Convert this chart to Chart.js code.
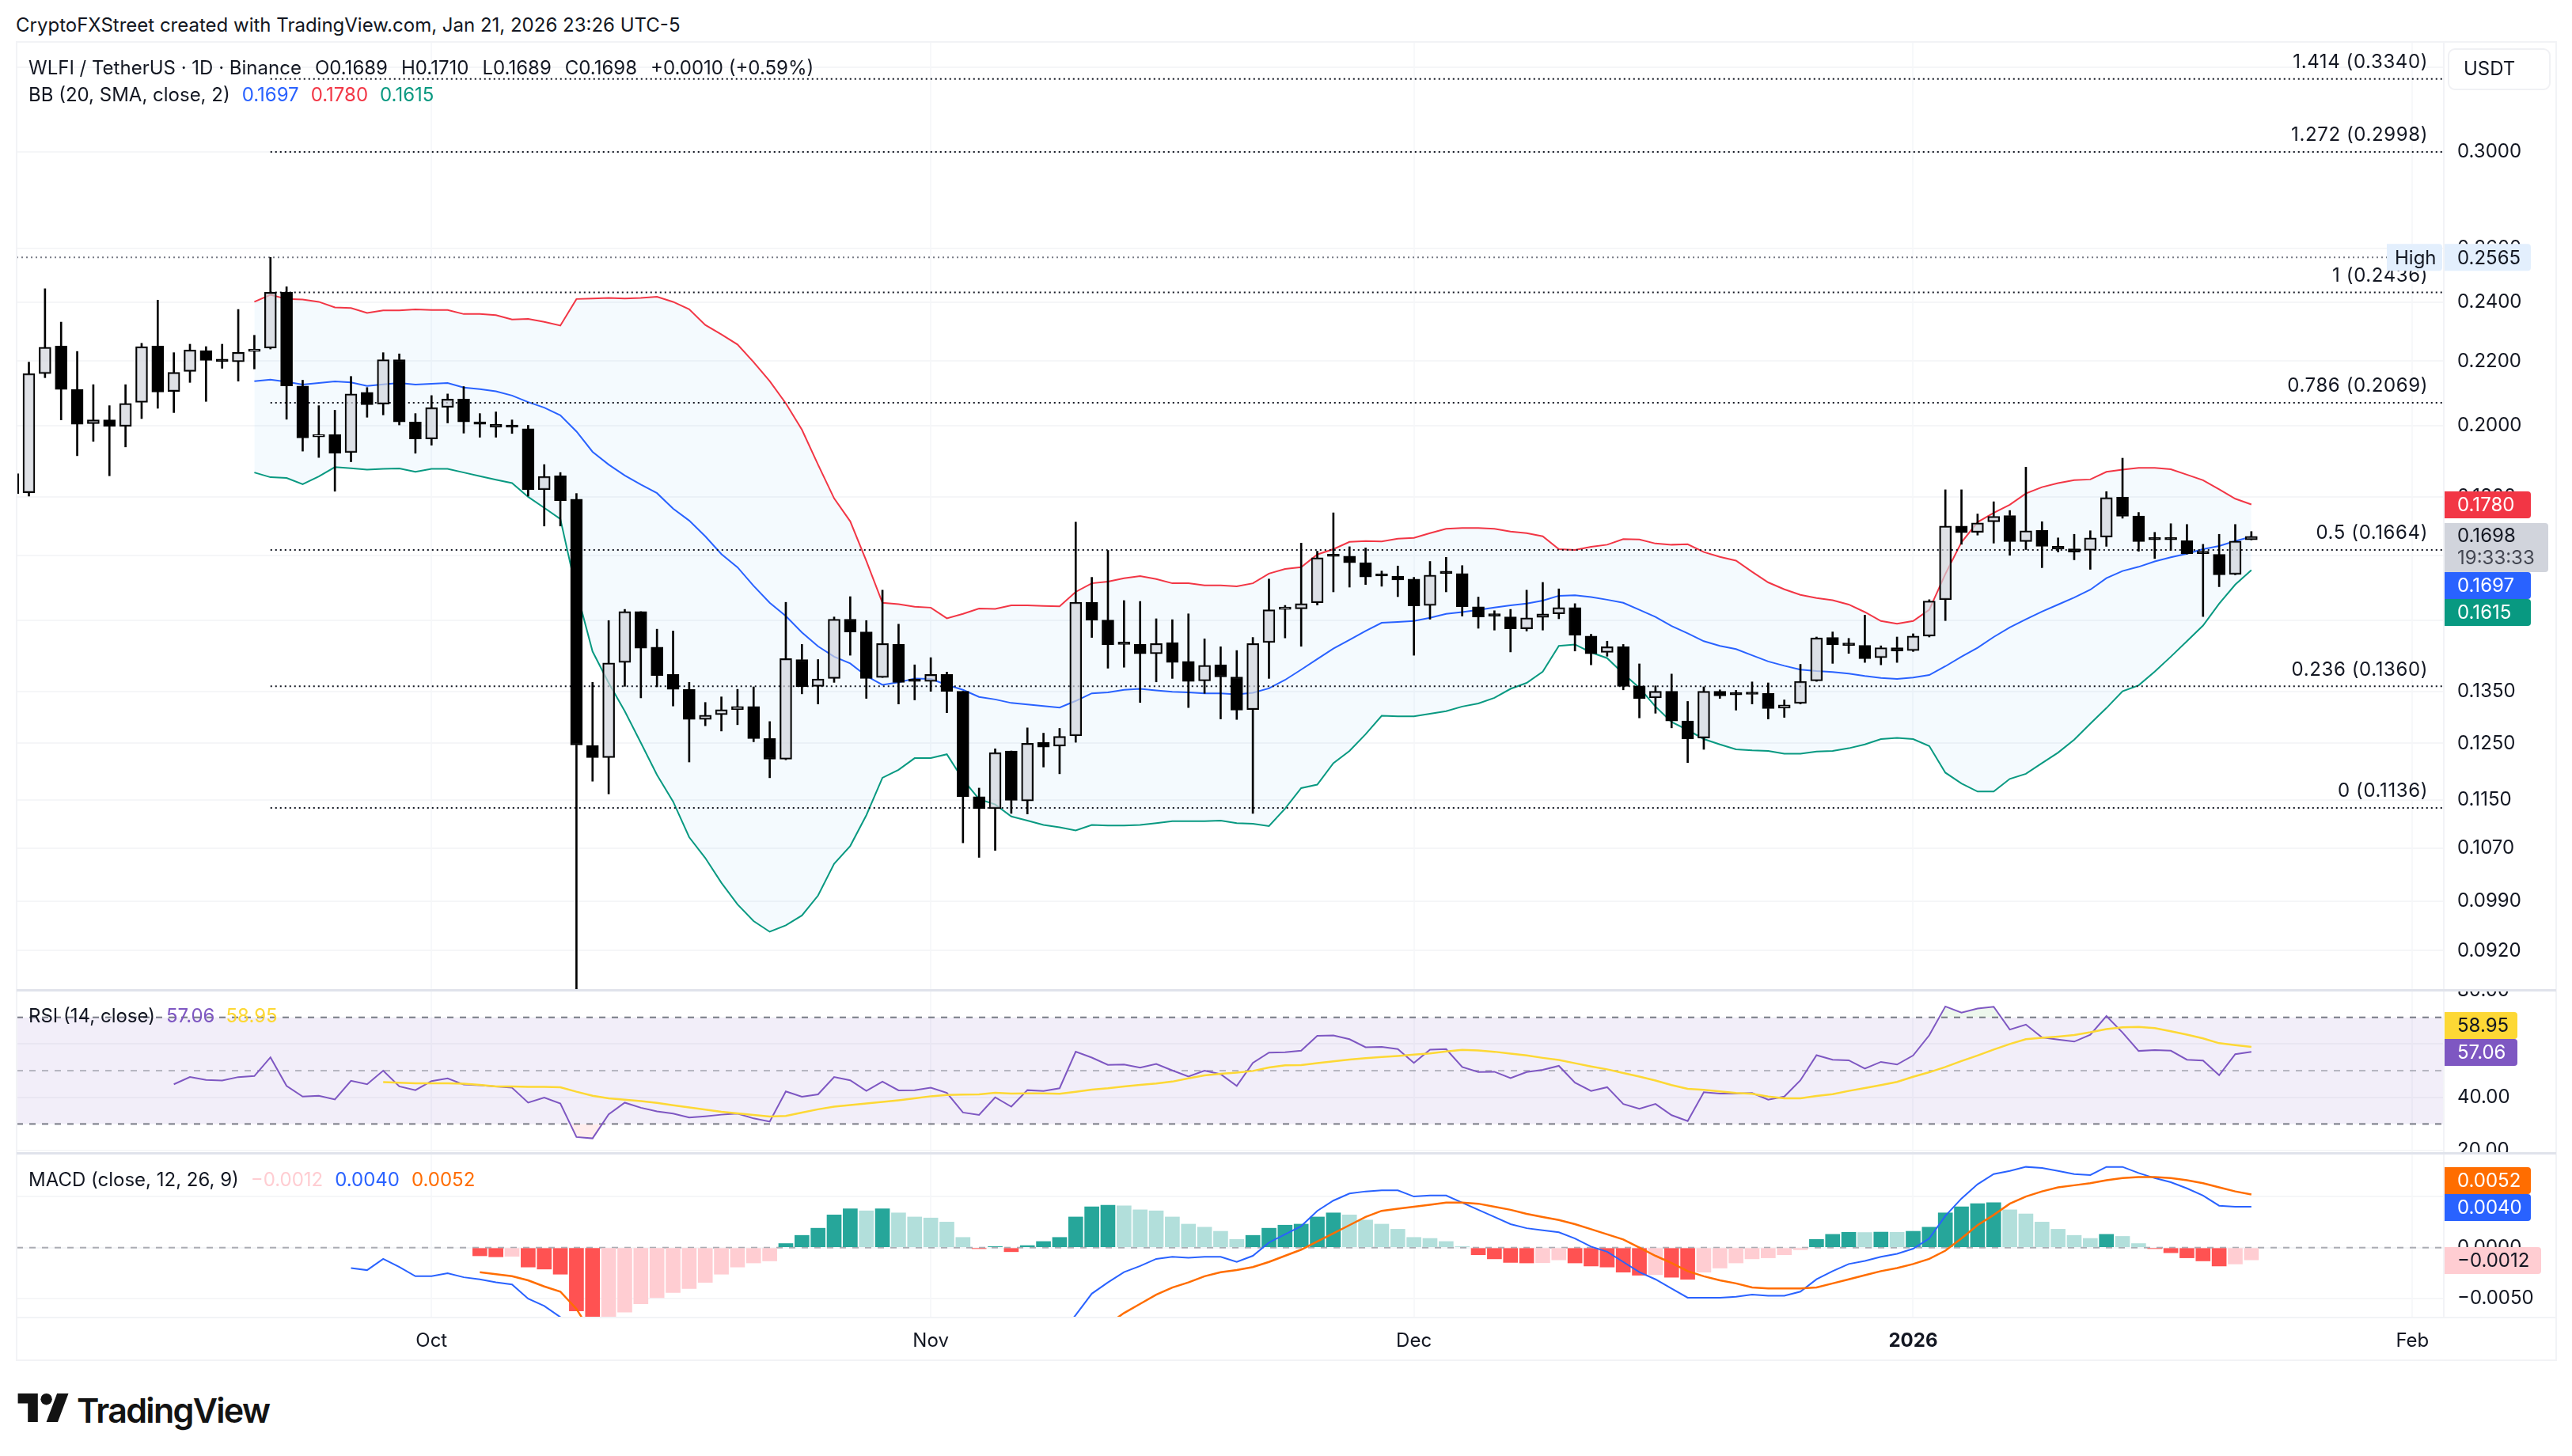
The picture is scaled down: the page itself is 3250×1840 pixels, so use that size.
<!DOCTYPE html>
<html>
<head>
<meta charset="utf-8">
<style>
  html, body { margin: 0; padding: 0; background: #fff; }
  body { width: 3250px; height: 1840px; position: relative; overflow: hidden; font-family: Inter, sans-serif; color: #131722; }
  canvas { position: absolute; left: 21px; }
  .txt { position: absolute; font-size: 24px; line-height: 30px; white-space: nowrap; }
  .txt span { margin-left: 12px; }
  .wide span { margin-left: 17px; }
  .mid span { margin-left: 15px; }
  .rule { position: absolute; background: #f2f3f6; }
  .sep { position: absolute; left: 21px; width: 3209px; height: 3px; background: #e0e3eb; }
</style>
</head>
<body>
<canvas id="priceChart" width="3209" height="1198" style="top:53px"></canvas>
<canvas id="rsiChart" width="3209" height="206" style="top:1252px"></canvas>
<canvas id="macdChart" width="3209" height="260" style="top:1459px"></canvas>

<div class="rule" style="left:20px;top:52px;width:3210px;height:2px"></div>
<div class="rule" style="left:20px;top:52px;width:2px;height:1667px"></div>
<div class="rule" style="left:3229px;top:52px;width:2px;height:1667px"></div>
<div class="rule" style="left:20px;top:1718px;width:3211px;height:2px"></div>
<div class="rule" style="left:3087px;top:52px;width:2px;height:1612px"></div>
<div class="rule" style="left:20px;top:1664px;width:3211px;height:2px"></div>
<div class="sep" style="top:1250px"></div>
<div class="sep" style="top:1456px"></div>

<div class="txt" style="left:20px;top:17px">CryptoFXStreet created with TradingView.com, Jan 21, 2026 23:26 UTC-5</div>
<div class="txt wide" style="left:36px;top:71px">WLFI / TetherUS · 1D · Binance<span>O0.1689</span><span>H0.1710</span><span>L0.1689</span><span>C0.1698</span><span>+0.0010 (+0.59%)</span></div>
<div class="txt mid" style="left:36px;top:105px">BB (20, SMA, close, 2)<span style="color:#2962ff">0.1697</span><span style="color:#f23645">0.1780</span><span style="color:#089981">0.1615</span></div>
<div class="txt" style="left:36px;top:1269px">RSI (14, close)<span style="margin-left:14px;color:#7e57c2">57.06</span><span style="margin-left:14px;color:#fdd835">58.95</span></div>
<div class="txt mid" style="left:36px;top:1476px">MACD (close, 12, 26, 9)<span style="color:#ffcdd2">−0.0012</span><span style="color:#2962ff">0.0040</span><span style="color:#ff6d00">0.0052</span></div>

<svg style="position:absolute;left:22px;top:1761px" width="66" height="36" viewBox="0 0 36 20">
  <path fill="#131313" d="M14 20H7V7H0V0h14v20zM28 20h-8L27.5 0h8L28 20z"/>
  <circle fill="#131313" cx="20" cy="4" r="4"/>
</svg>
<div class="txt" style="left:97px;top:1757px;font-size:43px;line-height:50px;font-weight:600;letter-spacing:-1.7px;color:#131313">TradingView</div>

<script src="https://cdn.jsdelivr.net/npm/chart.js@4"></script>
<script>
// daily candles, first one is the cut off bar at the left edge
const firstCandle = -1;
const opens = [.1863,
  .1811,.2160,.2250,.2110,.2006,.2017,.1998,.2070,.2250,.2104,
  .2167,.2235,.2203,.2198,.2232,.2243,.2436,.2121,.1967,.1974,
  .1922,.2101,.2065,.2205,.2011,.1961,.2055,.2080,.2011,.2004,
  .1998,.1991,.1819,.1857,.1794,.1246,.1224,.1409,.1519,.1441,
  .1384,.1354,.1295,.1304,.1314,.1320,.1259,.1221,.1415,.1360,
  .1376,.1502,.1474,.1378,.1447,.1373,.1370,.1384,.1350,.1155,
  .1135,.1236,.1148,.1252,.1245,.1264,.1540,.1500,.1451,.1447,
  .1427,.1451,.1411,.1371,.1404,.1379,.1314,.1451,.1524,.1525,
  .1539,.1652,.1649,.1633,.1603,.1601,.1594,.1533,.1609,.1607,
  .1530,.1511,.1507,.1481,.1506,.1514,.1528,.1465,.1430,.1442,
  .1361,.1337,.1350,.1292,.1260,.1350,.1345,.1346,.1346,.1317,
  .1326,.1371,.1462,.1447,.1445,.1419,.1440,.1434,.1465,.1546,
  .1724,.1708,.1735,.1751,.1685,.1713,.1673,.1667,.1663,.1696,
  .1799,.1750,.1691,.1691,.1687,.1657,.1653,.1605,.1689];
const highs = [.1863,
  .2197,.2449,.2331,.2232,.2125,.2060,.2125,.2259,.2408,.2228,
  .2256,.2248,.2256,.2375,.2286,.2565,.2456,.2139,.2060,.2046,
  .2151,.2116,.2228,.2224,.2036,.2091,.2096,.2119,.2036,.2041,
  .2017,.2001,.1888,.1866,.1809,.1368,.1499,.1524,.1519,.1480,
  .1476,.1368,.1328,.1339,.1354,.1359,.1291,.1540,.1447,.1415,
  .1507,.1553,.1499,.1568,.1491,.1404,.1419,.1389,.1350,.1170,
  .1240,.1236,.1279,.1269,.1278,.1734,.1598,.1663,.1544,.1542,
  .1503,.1501,.1514,.1459,.1442,.1434,.1462,.1594,.1533,.1681,
  .1661,.1758,.1672,.1669,.1613,.1625,.1598,.1636,.1646,.1626,
  .1552,.1521,.1524,.1568,.1586,.1571,.1537,.1469,.1454,.1447,
  .1406,.1361,.1385,.1330,.1359,.1353,.1352,.1369,.1367,.1333,
  .1405,.1463,.1474,.1460,.1511,.1444,.1463,.1470,.1546,.1819,
  .1819,.1755,.1787,.1764,.1881,.1735,.1694,.1703,.1712,.1814,
  .1906,.1759,.1708,.1730,.1728,.1678,.1703,.1728,.1710];
const lows = [.1809,
  .1802,.2147,.2017,.1913,.1954,.1857,.1938,.2021,.2052,.2039,
  .2132,.2073,.2177,.2136,.2175,.2240,.2019,.1926,.1908,.1815,
  .1896,.2025,.2032,.2002,.1920,.1943,.2008,.1978,.1966,.1966,
  .1977,.1802,.1724,.1724,.0800,.1182,.1160,.1360,.1337,.1359,
  .1321,.1216,.1283,.1273,.1285,.1253,.1188,.1220,.1345,.1325,
  .1368,.1424,.1336,.1378,.1325,.1333,.1350,.1308,.1079,.1056,
  .1067,.1127,.1126,.1207,.1195,.1252,.1462,.1397,.1399,.1328,
  .1369,.1376,.1318,.1346,.1296,.1295,.1127,.1376,.1461,.1443,
  .1534,.1564,.1575,.1581,.1577,.1553,.1424,.1502,.1564,.1509,
  .1482,.1478,.1431,.1476,.1478,.1503,.1433,.1404,.1422,.1353,
  .1298,.1307,.1279,.1215,.1239,.1336,.1313,.1325,.1296,.1299,
  .1325,.1370,.1407,.1428,.1409,.1404,.1409,.1432,.1463,.1499,
  .1678,.1701,.1681,.1651,.1665,.1621,.1659,.1640,.1617,.1673,
  .1744,.1661,.1643,.1663,.1654,.1508,.1576,.1604,.1689];
const closes = [.1809,
  .2160,.2246,.2110,.2004,.2017,.1998,.2067,.2248,.2102,.2164,
  .2237,.2203,.2199,.2229,.2240,.2436,.2121,.1964,.1974,.1920,
  .2096,.2063,.2205,.2011,.1961,.2054,.2080,.2011,.2004,.1995,
  .1995,.1819,.1855,.1790,.1247,.1224,.1408,.1519,.1439,.1382,
  .1354,.1295,.1303,.1314,.1320,.1259,.1221,.1417,.1359,.1375,
  .1502,.1474,.1376,.1449,.1368,.1370,.1384,.1350,.1155,.1135,
  .1233,.1149,.1250,.1243,.1263,.1540,.1500,.1446,.1447,.1427,
  .1449,.1409,.1370,.1403,.1379,.1313,.1449,.1523,.1528,.1537,
  .1645,.1648,.1633,.1599,.1601,.1592,.1532,.1603,.1607,.1530,
  .1507,.1509,.1481,.1505,.1514,.1528,.1467,.1427,.1442,.1360,
  .1336,.1350,.1292,.1258,.1350,.1341,.1343,.1344,.1316,.1323,
  .1370,.1461,.1446,.1445,.1417,.1440,.1433,.1465,.1543,.1724,
  .1707,.1732,.1749,.1685,.1712,.1673,.1666,.1659,.1694,.1798,
  .1749,.1685,.1689,.1689,.1655,.1655,.1604,.1686,.1698];

// bollinger bands start at bar 14
const bbStart = 14;
const bbUpper = [
  .2402,.2427,.2412,.2410,.2402,.2382,.2380,.2363,.2372,.2372,.2375,.2373,.2373,.2359,.2359,.2355,
  .2340,.2342,.2332,.2319,.2412,.2414,.2416,.2414,.2416,.2420,.2402,.2376,.2321,.2289,.2255,.2197,
  .2136,.2067,.1988,.1888,.1796,.1736,.1637,.1539,.1536,.1530,.1528,.1504,.1514,.1526,.1525,.1533,
  .1533,.1532,.1531,.1564,.1584,.1588,.1596,.1601,.1594,.1584,.1584,.1579,.1579,.1577,.1584,.1607,
  .1618,.1622,.1653,.1666,.1684,.1686,.1685,.1692,.1694,.1706,.1717,.1719,.1719,.1717,.1710,.1706,
  .1698,.1666,.1664,.1672,.1677,.1691,.1690,.1680,.1677,.1678,.1659,.1647,.1638,.1611,.1586,.1570,
  .1557,.1550,.1545,.1535,.1518,.1498,.1492,.1498,.1523,.1606,.1683,.1734,.1758,.1779,.1809,.1826,
  .1837,.1845,.1847,.1868,.1874,.1879,.1879,.1875,.1860,.1845,.1820,.1795,.1780];
const bbBasis = [
  .2136,.2141,.2134,.2125,.2130,.2135,.2132,.2121,.2126,.2130,.2125,.2128,.2130,.2116,.2111,.2104,
  .2091,.2071,.2054,.2031,.1983,.1924,.1888,.1858,.1833,.1810,.1769,.1738,.1698,.1654,.1622,.1578,
  .1539,.1509,.1473,.1443,.1421,.1407,.1381,.1363,.1368,.1376,.1375,.1363,.1353,.1339,.1334,.1327,
  .1324,.1321,.1318,.1331,.1346,.1348,.1353,.1355,.1352,.1349,.1348,.1346,.1346,.1344,.1347,.1356,
  .1373,.1394,.1416,.1438,.1457,.1476,.1494,.1496,.1498,.1505,.1514,.1518,.1523,.1528,.1533,.1537,
  .1544,.1555,.1556,.1552,.1546,.1539,.1523,.1507,.1487,.1471,.1454,.1444,.1437,.1424,.1411,.1402,
  .1394,.1391,.1389,.1386,.1381,.1377,.1375,.1378,.1383,.1401,.1421,.1440,.1463,.1484,.1502,.1519,
  .1535,.1551,.1569,.1596,.1613,.1623,.1636,.1646,.1655,.1666,.1674,.1686,.1697];
const bbLower = [
  .1866,.1853,.1851,.1834,.1855,.1881,.1878,.1874,.1876,.1877,.1868,.1876,.1876,.1866,.1856,.1846,
  .1837,.1800,.1771,.1742,.1566,.1432,.1367,.1311,.1251,.1193,.1147,.1088,.1055,.1017,.0985,.0961,
  .0946,.0955,.0969,.0998,.1046,.1074,.1124,.1188,.1202,.1223,.1223,.1230,.1185,.1151,.1142,.1122,
  .1115,.1108,.1104,.1099,.1108,.1107,.1107,.1108,.1111,.1114,.1114,.1114,.1115,.1111,.1110,.1106,
  .1135,.1170,.1176,.1214,.1236,.1267,.1302,.1301,.1301,.1306,.1311,.1320,.1326,.1337,.1355,.1367,
  .1390,.1444,.1447,.1430,.1418,.1386,.1357,.1320,.1290,.1275,.1258,.1248,.1239,.1237,.1236,.1231,
  .1231,.1235,.1236,.1241,.1248,.1258,.1260,.1258,.1245,.1197,.1178,.1164,.1164,.1186,.1195,.1214,
  .1233,.1257,.1287,.1317,.1350,.1362,.1390,.1421,.1454,.1488,.1537,.1581,.1615];

// fib retracement levels and the all time high marker
const fibRatios = ['1.414', '1.272', '1', '0.786', '0.5', '0.236', '0'];
const fibPrices = [.3340, .2998, .2436, .2069, .1664, .1360, .1136];
const fibStart = 15;
const highPrice = .2565;

const priceTicks = [.34, .30, .26, .24, .22, .20, .18, .165, .15, .135, .125, .115, .107, .099, .092];

const rsiStart = 9;
const rsiValues = [
  44.9,47.6,46.5,46.3,47.6,48,55,44.3,40.3,40.6,39.2,46.2,44.9,50,44.1,42.7,46.1,47.1,44.8,44.5,44.1,
  43.6,38,39.9,37.7,25.1,24.6,33.6,38,36.1,34.7,33.9,32.4,32.9,33.5,33.9,32.1,30.9,42.2,40.2,41.1,47.6,
  46.4,42.4,45.9,42.6,42.7,43.6,41.7,34.3,33.4,40,36.5,42.7,42.4,43.4,57.1,54.9,52.2,52.3,51.1,52.5,50.1,
  47.8,50,48.7,44.3,52.9,56.8,56.9,57.5,63.1,63.2,61.8,58.8,58.9,58.1,52.9,57.9,58.1,51.4,49.5,49.6,47.2,
  49.5,50.3,51.8,45.5,42.4,43.8,37.5,35.7,37.5,33.3,31.1,41.9,41.4,41.4,41.6,39.1,40.3,46.4,55.8,54.1,53.9,
  50.8,53.3,52.3,55.7,63.3,74.1,71.8,73.3,74,65.4,67.3,62.5,61.7,60.9,63.5,70.5,64.3,57.4,57.7,57.5,54.1,
  53.8,48.3,56.2,57.06];
const rsiMaStart = 22;
const rsiMa = [
  45.7,45.5,45.3,45.3,45.3,45.1,44.7,44.1,44.1,43.9,43.9,43.8,42.1,40.6,39.6,39.1,38.6,37.9,37,36.2,35.4,
  34.6,34,33.4,32.8,33,34.3,35.5,36.5,37.1,37.7,38.3,38.9,39.6,40.4,40.9,41,41.1,41.7,41.4,41.5,41.5,41.3,
  42.1,42.9,43.4,44.1,44.7,45.2,45.9,47.1,48.2,48.8,49.3,49.9,51.2,52,52.1,52.8,53.5,54.2,54.7,55.1,55.5,
  56,56.5,57.2,57.8,57.6,57.1,56.4,55.7,54.8,54,52.8,51.6,50.5,49.1,47.8,46.3,44.6,43.2,42.8,42.2,41.6,41.3,
  40.3,39.6,39.6,40.5,41.2,42.4,43.5,44.6,45.8,47.7,49.4,51.4,53.6,55.7,57.9,60,61.8,62.3,62.8,63.4,64.4,
  65.6,66.3,66.4,66,64.8,63.5,62.1,60.3,59.6,58.95];
const rsiTicks = [80, 60, 40, 20];

// the macd lines run off the bottom of the pane, nulls are the part that can't be seen
const macdStart = 20;
const macdLine = [
  -.0020,-.0022,-.0011,-.0019,-.0028,-.0028,-.0025,-.0029,-.0031,-.0034,-.0036,-.0050,-.0057,-.0068,-.0095,
  null,null,null,null,null,null,null,null,null,null,null,null,null,null,null,
  null,null,null,null,null,null,null,null,null,null,null,null,null,null,
  -.0085,-.0066,-.0045,-.0034,-.0024,-.0018,-.0011,-.0009,-.0010,-.0009,-.0009,-.0014,-.0008,.0005,.0013,
  .0021,.0036,.0046,.0053,.0055,.0056,.0056,.0050,.0051,.0051,.0044,.0037,.0030,.0023,.0019,.0017,.0015,
  .0009,.0001,-.0004,-.0014,-.0024,-.0031,-.0040,-.0049,-.0049,-.0049,-.0048,-.0046,-.0047,-.0047,-.0043,
  -.0031,-.0023,-.0016,-.0013,-.0009,-.0006,-.0001,.0009,.0031,.0048,.0062,.0072,.0075,.0079,.0078,.0075,
  .0072,.0071,.0079,.0079,.0073,.0068,.0064,.0058,.0051,.0041,.0040,.0040];
const signalStart = 28;
const macdSignal = [
  -.0024,-.0026,-.0028,-.0032,-.0038,-.0043,-.0060,-.0085,
  null,null,null,null,null,null,null,null,null,null,null,null,null,null,null,null,
  null,null,null,null,null,null,null,null,null,null,null,null,null,null,null,
  -.0075,-.0064,-.0055,-.0046,-.0039,-.0034,-.0028,-.0024,-.0022,-.0019,-.0014,-.0008,-.0002,.0006,.0014,
  .0022,.0030,.0036,.0038,.0040,.0042,.0044,.0044,.0043,.0040,.0037,.0033,.0030,.0027,.0023,.0018,.0013,
  .0008,0,-.0008,-.0015,-.0023,-.0028,-.0032,-.0035,-.0039,-.0040,-.0040,-.0040,-.0039,-.0035,-.0031,
  -.0027,-.0023,-.0020,-.0016,-.0011,-.0003,.0009,.0022,.0032,.0043,.0050,.0055,.0059,.0061,.0063,.0066,
  .0068,.0069,.0069,.0068,.0066,.0063,.0059,.0055,.0052];
const histStart = 28;
const macdHist = [
  -.0008,-.0009,-.00085,-.0019,-.0021,-.0026,-.0062,-.0072,-.0070,-.0063,-.0055,-.0049,-.0044,-.0040,-.0034,
  -.0026,-.0019,-.0015,-.0013,.0004,.0012,.0019,.0032,.0038,.0036,.0038,.0034,.0030,.0029,.0025,.0010,
  -.0001,.0001,-.0004,.0002,.0006,.0010,.0030,.0040,.00415,.0041,.0037,.0036,.0030,.0023,.0020,.0016,.0008,
  .0012,.0019,.0022,.0023,.0030,.0034,.0032,.0027,.0023,.0018,.0010,.0009,.0006,.0001,-.0007,-.0011,-.00145,
  -.0015,-.00148,-.0012,-.0015,-.0018,-.0019,-.0024,-.0027,-.00265,-.0029,-.0031,-.0024,-.0020,-.0015,-.0011,
  -.0010,-.0007,-.0002,.0008,.0013,.0015,.00148,.00152,.0015,.0016,.0020,.0034,.0040,.0043,.0044,.0037,.0033,
  .0025,.0018,.0012,.0009,.0013,.0011,.0004,-.0001,-.0005,-.0010,-.0013,-.0018,-.0016,-.0012];
const macdTicks = [.005, 0, -.005];

// month starts as bar numbers
const timeTicks = [25, 56, 86, 117, 148];
const timeLabels = ['Oct', 'Nov', 'Dec', '2026', 'Feb'];

// x range so bar 0 lands at 36.5px and each day is 20.35px wide
const xMin = -0.762;
const xMax = 149.9;
const AXIS_W = 143;
const FONT = 'Inter';
const TEXT = '#131722';

function series(values, start) {
  return values.map((v, k) => ({ x: start + k, y: v }));
}

function line(values, start, color, width, order) {
  return {
    type: 'line',
    data: series(values, start),
    borderColor: color,
    borderWidth: width,
    pointRadius: 0,
    tension: 0,
    fill: false,
    order: order
  };
}

function flatLine(value, from, to, color, width, dash, order) {
  return {
    type: 'line',
    data: [{ x: from, y: value }, { x: to, y: value }],
    borderColor: color,
    borderWidth: width,
    borderDash: dash,
    pointRadius: 0,
    fill: false,
    order: order
  };
}

function xAxis(showLabels) {
  return {
    type: 'linear',
    min: xMin,
    max: xMax,
    offset: false,
    border: { display: false },
    grid: { color: '#f7f8fa', lineWidth: 2, drawTicks: false, offset: false },
    afterBuildTicks: (scale) => { scale.ticks = timeTicks.map(v => ({ value: v })); },
    afterFit: (scale) => {
      scale.height = showLabels ? 55 : 0;
      scale.paddingLeft = 0;
      scale.paddingRight = 0;
    },
    ticks: {
      display: showLabels,
      autoSkip: false,
      maxRotation: 0,
      padding: 16,
      color: TEXT,
      font: (ctx) => ({ family: FONT, size: 24, weight: ctx.index === 3 ? 'bold' : 'normal' }),
      callback: (v) => timeLabels[timeTicks.indexOf(v)]
    }
  };
}

function yAxis(type, min, max, tickValues, format) {
  return {
    type: type,
    position: 'right',
    min: min,
    max: max,
    bounds: 'data',
    border: { display: false },
    grid: { color: '#f5f6f8', lineWidth: 2, drawTicks: false },
    afterBuildTicks: (scale) => { scale.ticks = tickValues.map(v => ({ value: v })); },
    afterFit: (scale) => {
      scale.width = AXIS_W;
      scale.paddingTop = 0;
      scale.paddingBottom = 0;
    },
    ticks: {
      autoSkip: false,
      padding: 18,
      color: TEXT,
      font: { family: FONT, size: 24 },
      callback: format
    }
  };
}

function baseOptions(x, y) {
  return {
    responsive: false,
    animation: false,
    devicePixelRatio: 1,
    layout: { padding: 0 },
    plugins: { legend: { display: false }, tooltip: { enabled: false } },
    scales: { x: x, y: y }
  };
}

// boxes on the price axis, sit at fixed spots because they get pushed apart so they don't overlap
function drawTag(ctx, x, y, w, h, bg, fg, text, textX) {
  ctx.fillStyle = bg;
  ctx.beginPath();
  ctx.roundRect(x, y, w, h, [0, 4, 4, 0]);
  ctx.fill();
  ctx.fillStyle = fg;
  ctx.font = '24px ' + FONT;
  ctx.textAlign = 'left';
  ctx.textBaseline = 'middle';
  ctx.fillText(text, textX, y + h / 2 + 1);
}

const fibLabels = {
  id: 'fibLabels',
  afterDraw(chart) {
    const ctx = chart.ctx;
    const top = chart.canvas.offsetTop;
    const left = chart.canvas.offsetLeft;
    ctx.save();
    ctx.font = '24px ' + FONT;
    ctx.fillStyle = TEXT;
    ctx.textAlign = 'right';
    ctx.textBaseline = 'middle';
    ctx.letterSpacing = '0.6px';
    fibPrices.forEach((p, k) => {
      const y = chart.scales.y.getPixelForValue(p);
      ctx.fillText(fibRatios[k] + ' (' + p.toFixed(4) + ')', 3068 - left, y - 21);
    });
    ctx.letterSpacing = '0px';

    // USDT button over the top of the axis
    ctx.fillStyle = '#fff';
    ctx.strokeStyle = '#f0f1f4';
    ctx.lineWidth = 2;
    ctx.beginPath();
    ctx.roundRect(3094 - left, 62 - top, 128, 51, 8);
    ctx.fill();
    ctx.stroke();
    ctx.fillStyle = TEXT;
    ctx.textAlign = 'left';
    ctx.fillText('USDT', 3113 - left, 88 - top);

    const highY = chart.scales.y.getPixelForValue(highPrice);
    drawTag(ctx, 3016 - left, highY - 17, 70, 34, '#e3effd', TEXT, 'High', 3026 - left);
    drawTag(ctx, 3088 - left, highY - 17, 110, 34, '#e3effd', TEXT, highPrice.toFixed(4), 3105 - left);

    drawTag(ctx, 3088 - left, 621 - top, 110, 34, '#f23645', '#fff', bbUpper[bbUpper.length - 1].toFixed(4), 3105 - left);
    drawTag(ctx, 3088 - left, 661 - top, 132, 62, '#d1d4dc', TEXT, '', 3105 - left);
    ctx.fillStyle = TEXT;
    ctx.fillText(closes[closes.length - 1].toFixed(4), 3105 - left, 678 - top);
    ctx.fillStyle = '#434651';
    ctx.fillText('19:33:33', 3105 - left, 706 - top);
    drawTag(ctx, 3088 - left, 723 - top, 110, 34, '#2962ff', '#fff', bbBasis[bbBasis.length - 1].toFixed(4), 3105 - left);
    drawTag(ctx, 3088 - left, 757 - top, 110, 34, '#089981', '#fff', bbLower[bbLower.length - 1].toFixed(4), 3105 - left);
    ctx.restore();
  }
};

const rsiTags = {
  id: 'rsiTags',
  afterDraw(chart) {
    const ctx = chart.ctx;
    const top = chart.canvas.offsetTop;
    const left = chart.canvas.offsetLeft;
    ctx.save();
    drawTag(ctx, 3088 - left, 1279 - top, 93, 34, '#fdd835', TEXT, rsiMa[rsiMa.length - 1].toFixed(2), 3105 - left);
    drawTag(ctx, 3088 - left, 1313 - top, 93, 34, '#7e57c2', '#fff', rsiValues[rsiValues.length - 1].toFixed(2), 3105 - left);
    ctx.restore();
  }
};

function signedFixed(v) {
  return (v < 0 ? '−' : '') + Math.abs(v).toFixed(4);
}

const macdTags = {
  id: 'macdTags',
  afterDraw(chart) {
    const ctx = chart.ctx;
    const top = chart.canvas.offsetTop;
    const left = chart.canvas.offsetLeft;
    ctx.save();
    drawTag(ctx, 3088 - left, 1475 - top, 110, 34, '#ff6d00', '#fff', signedFixed(macdSignal[macdSignal.length - 1]), 3105 - left);
    drawTag(ctx, 3088 - left, 1509 - top, 110, 34, '#2962ff', '#fff', signedFixed(macdLine[macdLine.length - 1]), 3105 - left);
    drawTag(ctx, 3088 - left, 1576 - top, 123, 34, '#ffcdd2', TEXT, signedFixed(macdHist[macdHist.length - 1]), 3105 - left);
    ctx.restore();
  }
};

function buildPriceChart() {
  const bodies = opens.map((o, k) => ({ x: firstCandle + k, y: [o, closes[k]] }));
  const upperWicks = highs.map((h, k) => ({ x: firstCandle + k, y: [Math.max(opens[k], closes[k]), h] }));
  const lowerWicks = lows.map((l, k) => ({ x: firstCandle + k, y: [l, Math.min(opens[k], closes[k])] }));
  const bodyColors = opens.map((o, k) => closes[k] >= o ? 'rgba(209,212,220,0.7)' : '#000');

  const upper = line(bbUpper, bbStart, '#f23645', 2, 20);
  upper.fill = { target: 2 };
  upper.backgroundColor = 'rgba(33,150,243,0.05)';

  const fibLines = fibPrices.map(p => flatLine(p, fibStart, xMax, '#131722', 2, [2, 4], 12));

  new Chart(document.getElementById('priceChart'), {
    type: 'bar',
    data: {
      datasets: [
        upper,
        line(bbBasis, bbStart, '#2962ff', 2, 15),
        line(bbLower, bbStart, '#089981', 2, 16),
        ...fibLines,
        flatLine(highPrice, xMin, xMax, '#787b86', 2, [2, 4], 13),
        { data: upperWicks, backgroundColor: '#000', barThickness: 2, grouped: false, order: 3 },
        { data: lowerWicks, backgroundColor: '#000', barThickness: 2, grouped: false, order: 3 },
        {
          data: bodies,
          backgroundColor: bodyColors,
          borderColor: '#000',
          borderWidth: 2,
          borderSkipped: false,
          barThickness: 15,
          minBarLength: 3,
          grouped: false,
          order: 1
        }
      ]
    },
    options: baseOptions(xAxis(false), yAxis('logarithmic', 0.0868, 0.3528, priceTicks, v => v.toFixed(4))),
    plugins: [fibLabels]
  });
}

function buildRsiChart() {
  const band = flatLine(70, xMin, xMax, 'rgba(0,0,0,0)', 0, [], 20);
  band.fill = { target: { value: 30 } };
  band.backgroundColor = 'rgba(126,87,194,0.1)';

  const rsi = line(rsiValues, rsiStart, '#7e57c2', 2, 2);
  rsi.fill = { target: { value: 30 }, above: 'rgba(0,0,0,0)', below: 'rgba(255,82,82,0.1)' };
  const rsiAbove = line(rsiValues, rsiStart, 'rgba(0,0,0,0)', 0, 3);
  rsiAbove.fill = { target: { value: 70 }, above: 'rgba(76,175,80,0.1)', below: 'rgba(0,0,0,0)' };

  new Chart(document.getElementById('rsiChart'), {
    type: 'line',
    data: {
      datasets: [
        band,
        flatLine(70, xMin, xMax, '#787b86', 2, [8, 8], 10),
        flatLine(50, xMin, xMax, 'rgba(120,123,134,0.5)', 2, [8, 8], 10),
        flatLine(30, xMin, xMax, '#787b86', 2, [8, 8], 10),
        rsiAbove,
        rsi,
        line(rsiMa, rsiMaStart, '#fdd835', 2.5, 1)
      ]
    },
    options: baseOptions(xAxis(false), yAxis('linear', 18.84, 80, rsiTicks, v => v.toFixed(2))),
    plugins: [rsiTags]
  });
}

function buildMacdChart() {
  // dark bar when the histogram moves away from zero side up/down, pale otherwise
  const histColors = macdHist.map((v, k) => {
    const prev = k > 0 ? macdHist[k - 1] : 0;
    if (v >= 0) return v >= prev ? '#26a69a' : '#b2dfdb';
    return v <= prev ? '#ff5252' : '#ffcdd2';
  });

  new Chart(document.getElementById('macdChart'), {
    type: 'bar',
    data: {
      datasets: [
        flatLine(0, xMin, xMax, 'rgba(120,123,134,0.6)', 2, [8, 8], 10),
        { data: series(macdHist, histStart), backgroundColor: histColors, barThickness: 18, grouped: false, order: 5 },
        line(macdSignal, signalStart, '#ff6d00', 2.5, 1),
        line(macdLine, macdStart, '#2962ff', 2, 2)
      ]
    },
    options: baseOptions(xAxis(true), yAxis('linear', -0.00676, 0.00911, macdTicks, signedFixed)),
    plugins: [macdTags]
  });
}

buildPriceChart();
buildRsiChart();
buildMacdChart();
</script>
</body>
</html>
